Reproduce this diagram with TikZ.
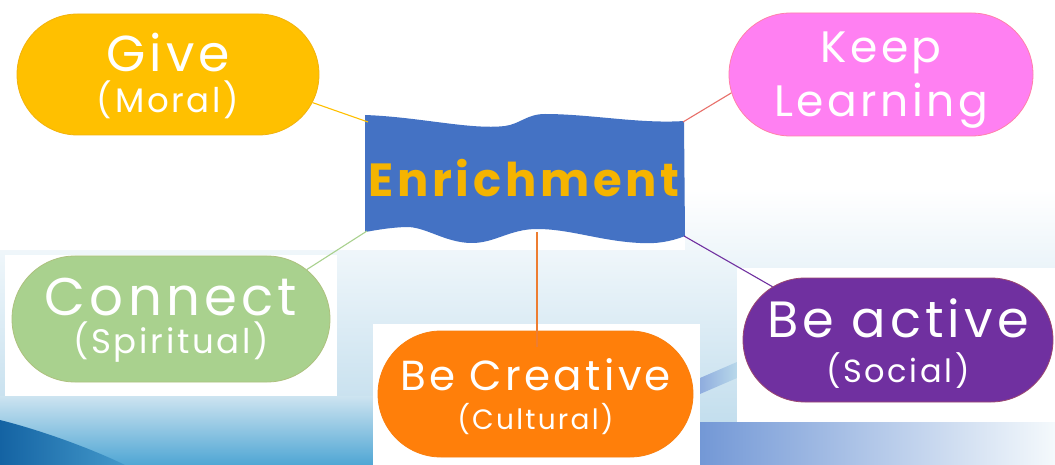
\documentclass[tikz,border=0pt]{standalone}
\usepackage{fontspec}
\setmainfont{Poppins}
\newfontfamily\hand{Poppins}[LetterSpace=8]
\usetikzlibrary{shapes.misc}
\definecolor{cgive}{HTML}{FFC000}
\definecolor{ckeep}{HTML}{FF80F2}
\definecolor{cconn}{HTML}{A9D18E}
\definecolor{ccrea}{HTML}{FF7F0A}
\definecolor{cact}{HTML}{7030A0}
\definecolor{cflag}{HTML}{4472C4}
\definecolor{cenr}{HTML}{F5B400}
\definecolor{lkeep}{HTML}{E8706A}
\definecolor{lcrea}{HTML}{ED7D31}
\definecolor{bgblue}{HTML}{B8D8EA}
\definecolor{swdark}{HTML}{1463A3}
\definecolor{swmid}{HTML}{4FA6D4}
\definecolor{brblue}{HTML}{7398D6}
\begin{document}
\begin{tikzpicture}[x=1pt,y=-1pt,
  pill/.style={rounded rectangle, text=white, align=center, inner sep=0pt, line width=0.8pt, text depth=0pt},
  link/.style={line width=1.1pt},
  whitebox/.style={fill=white}]
\useasboundingbox (0,0) rectangle (1055,465);
% background
\fill[white] (0,0) rectangle (1055,465);
\shade[top color=white, bottom color=bgblue] (0,190) rectangle (1055,465);
\fill[white] (0,0) rectangle (685,250);
\shade[top color=bgblue!70, bottom color=swmid] (0,396) rectangle (373,465);
\shade[left color=swdark, right color=swmid!80!swdark] (0,420) .. controls (40,430) and (90,448) .. (125,465) -- (0,465) -- cycle;
\shade[left color=brblue, right color=white!85!bgblue] (700,422) rectangle (1055,465);
\shade[left color=brblue!80, right color=bgblue] (700,378) -- (737,362) -- (737,378) -- (700,394) -- cycle;
\fill[whitebox] (5,255) rectangle (337,396);
\fill[whitebox] (373,324) rectangle (700,465);
\fill[whitebox] (737,268) rectangle (1055,422);
% flag
\fill[cflag] (365,115) .. controls (420,117) and (470,130) .. (505,126) .. controls (520,124) and (527,114) .. (545,114)
  .. controls (590,114) and (640,124) .. (684,121) -- (685,236)
  .. controls (670,242) and (655,244) .. (640,243) .. controls (600,241) and (570,229) .. (537,229)
  .. controls (510,229) and (495,243) .. (472,243) .. controls (445,243) and (425,226) .. (405,227)
  .. controls (385,228) and (372,231) .. (365,232) -- cycle;
\coordinate (eGive) at (368,122);
\coordinate (eKeep) at (683,122);
\coordinate (eConn) at (367,231);
\coordinate (eCrea) at (537,232);
\coordinate (eAct) at (684,236);
\node[font=\hand\bfseries\fontsize{46.5}{46}\selectfont, text=cenr] (enr) at (524,178) {Enrichment};
% pills
\node[pill, fill=cgive, draw=cgive!80!brown, minimum width=302, minimum height=121, text height=77pt,
  font=\hand\fontsize{34}{41}\selectfont] (give) at (168,74.5) {{\fontsize{50.5}{41}\selectfont Give}\\(Moral)};
\node[pill, fill=ckeep, draw=ckeep!70!orange, minimum width=304, minimum height=123, text height=85pt,
  font=\hand\fontsize{44}{54}\selectfont] (keep) at (881,74.5) {Keep\\Learning};
\node[pill, fill=cconn, draw=cconn!80!brown, minimum width=318, minimum height=126, text height=68pt,
  font=\hand\fontsize{34}{38}\selectfont] (conn) at (171,319) {{\fontsize{53}{38}\selectfont Connect}\\(Spiritual)};
\node[pill, fill=ccrea, draw=ccrea!90!brown, minimum width=315, minimum height=126, text height=70pt,
  font=\hand\fontsize{28}{39}\selectfont] (crea) at (535.5,394) {{\fontsize{42}{39}\selectfont Be Creative}\\(Cultural)};
\node[pill, fill=cact, draw=cact!70!orange, minimum width=310, minimum height=124, text height=84pt,
  font=\hand\fontsize{32}{45}\selectfont] (act) at (898,340) {{\fontsize{51}{45}\selectfont Be active}\\(Social)};
% connectors
\draw[link, draw=cgive] (give.-11.5) -- (eGive);
\draw[link, draw=lkeep] (keep.187) -- (eKeep);
\draw[link, draw=cconn] (conn.20) -- (eConn);
\draw[link, draw=lcrea] ([xshift=1.5pt,yshift=-16pt]crea.north) -- (eCrea);
\draw[link, draw=cact] (act.157) -- (eAct);
\end{tikzpicture}
\end{document}
